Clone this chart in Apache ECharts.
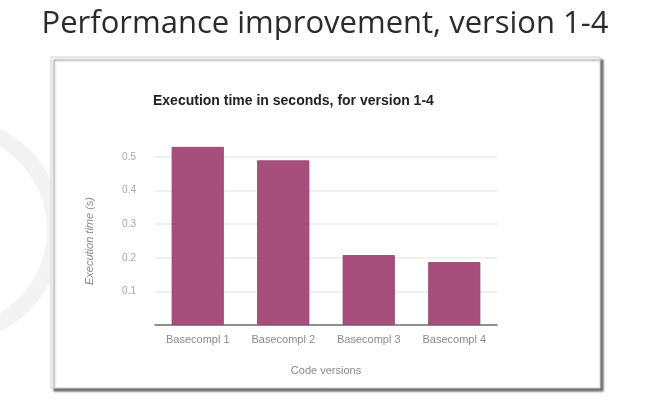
<!DOCTYPE html>
<html>
<head>
<meta charset="utf-8">
<script src="https://cdn.jsdelivr.net/npm/echarts@6/dist/echarts.min.js"></script>
<style>
html,body{margin:0;padding:0;background:#fff;}
#main{width:650px;height:400px;}
</style>
</head>
<body>
<div id="main"></div>
<script>
var categories = ['Basecompl 1', 'Basecompl 2', 'Basecompl 3', 'Basecompl 4'];
var execTimes = [0.53, 0.49, 0.208, 0.187];
var yTicks = [0.1, 0.2, 0.3, 0.4, 0.5];

var chart = echarts.init(document.getElementById('main'), null, {renderer: 'canvas'});
chart.setOption({
  backgroundColor: '#ffffff',
  animation: false,
  title: [{
    text: 'Performance improvement, version 1-4',
    left: 'center',
    top: 4,
    textStyle: {fontFamily: 'Open Sans', fontSize: 31, fontWeight: 'normal', color: '#2b2b2b'}
  }, {
    text: 'Execution time in seconds, for version 1-4',
    left: 148,
    top: 89,
    textStyle: {fontFamily: 'Liberation Sans', fontSize: 14, fontWeight: 'bold', color: '#222'}
  }],
  graphic: [{
    type: 'circle', z: -20, silent: true,
    shape: {cx: -50, cy: 230, r: 105},
    style: {fill: 'none', stroke: '#f3f3f3', lineWidth: 16}
  }, {
    type: 'rect',
    z: -10,
    shape: {x: 51, y: 57, width: 549, height: 331},
    style: {fill: '#fff', stroke: '#cfcfcf', lineWidth: 1,
      shadowBlur: 2, shadowOffsetX: 3, shadowOffsetY: 3, shadowColor: 'rgba(0,0,0,0.55)'}
  }],
  grid: {left: 155, right: 153, top: 157, bottom: 75},
  xAxis: {
    type: 'category',
    data: categories,
    name: 'Code versions',
    nameLocation: 'middle',
    nameGap: 40,
    nameTextStyle: {fontFamily: 'Liberation Sans', fontSize: 11, color: '#8a8a8a'},
    axisLine: {lineStyle: {color: '#707070', width: 1.5}},
    axisTick: {show: false},
    axisLabel: {fontFamily: 'Liberation Sans', fontSize: 11, color: '#8a8a8a', margin: 9}
  },
  yAxis: {
    type: 'value',
    min: 0,
    max: 0.5,
    interval: 0.1,
    name: 'Execution time (s)',
    nameLocation: 'middle',
    nameGap: 60,
    nameRotate: 90,
    nameTextStyle: {fontFamily: 'Liberation Sans', fontSize: 11, fontStyle: 'italic', color: '#8a8a8a'},
    axisLine: {show: false},
    axisTick: {show: false},
    splitLine: {lineStyle: {color: '#ebebeb', width: 1.5}},
    axisLabel: {
      fontFamily: 'Liberation Sans', fontSize: 10, color: '#a8a8a8', margin: 19,
      formatter: function (v) { return yTicks.indexOf(Math.round(v * 10) / 10) >= 0 && v > 0 ? v.toFixed(1) : ''; }
    }
  },
  series: [{
    type: 'bar',
    data: execTimes,
    barWidth: '61%',
    clip: false,
    itemStyle: {color: '#a64f7c', borderColor: '#94406b', borderWidth: 0.8}
  }]
});
</script>
</body>
</html>
